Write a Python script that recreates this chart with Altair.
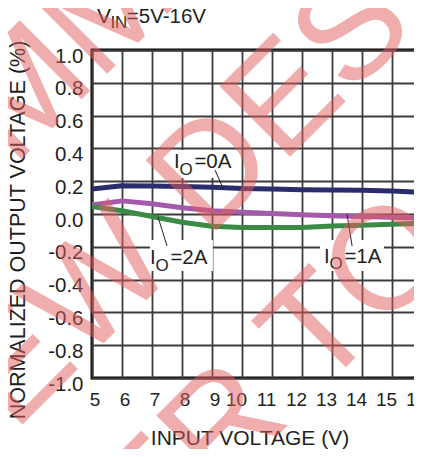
import altair as alt
import pandas as pd

# ---------------- data ----------------
vin = [5, 6, 7, 8, 9, 10, 11, 12, 13, 14, 15, 16]
io_0a = [0.152, 0.172, 0.170, 0.167, 0.163, 0.155, 0.152, 0.148, 0.146, 0.145, 0.140, 0.132]
io_1a = [0.055, 0.080, 0.062, 0.038, 0.020, 0.010, 0.003, -0.005, -0.011, -0.016, -0.020, -0.025]
io_2a = [0.045, 0.020, -0.015, -0.050, -0.075, -0.082, -0.083, -0.082, -0.073, -0.068, -0.062, -0.057]
series_names = ["IO=0A", "IO=1A", "IO=2A"]
series_colors = ["#2b2c6c", "#a45aab", "#3b8b47"]

x_ticks = [5, 6, 7, 8, 9, 10, 11, 12, 13, 14, 15, 16]
y_ticks = [-1.0, -0.8, -0.6, -0.4, -0.2, 0.0, 0.2, 0.4, 0.6, 0.8, 1.0]
x_title = "INPUT VOLTAGE (V)"
y_title = "NORMALIZED OUTPUT VOLTAGE (%)"

header_text = ["V", "IN", "=5V-16V"]

label_suffix = ["=0A", "=2A", "=1A"]
label_vin = [7.73, 6.93, 12.73]
label_pct = [0.28, -0.305, -0.297]

leader_vin = [9.1, 7.2, 13.5]
leader_vin2 = [9.38, 7.5, 13.67]
leader_pct = [0.268, -0.018, 0.0]
leader_pct2 = [0.152, -0.195, -0.195]

box_vin = [7.73, 6.93, 12.6]
box_vin2 = [9.73, 9.03, 14.73]
box_pct = [0.39, -0.159, -0.159]
box_pct2 = [0.22, -0.348, -0.348]

watermark_lines = ["NOT RECOMMENDED", "NEW DESIGNS", "REFER TO"]

# ---------------- layout / style ----------------
FONT = "Liberation Sans"
INK = "#231f20"
header_px = [5, 18.4, 34.8]
header_py = [-27, -22, -27]
header_fs = [21, 17, 20.5]
wm_px = [-618, -152, -147]
wm_py = [657, 457, 718]

rows = []
for name, vals in zip(series_names, [io_0a, io_1a, io_2a]):
    for v, p in zip(vin, vals):
        rows.append({"vin": v, "pct": p, "series": name})
df_lines = pd.DataFrame(rows)

xs = alt.Scale(domain=[5, 16], nice=False, zero=False)
ys = alt.Scale(domain=[-1, 1], nice=False, zero=False)

x_axis = alt.Axis(
    values=x_ticks, format="d", title=x_title, grid=True, ticks=False, tickSize=0,
    domain=False, labelFlush=False, labelOverlap=False, labelFontSize=19,
    labelPadding=27, labelBaseline="alphabetic",
    labelOffset=alt.condition("datum.value < 10", alt.value(2.5), alt.value(-6)),
    titleFontSize=21, titleFontWeight="normal", titleX=157.5, titleY=66.5,
    titleBaseline="alphabetic", titleAlign="center",
)
y_axis = alt.Axis(
    values=y_ticks,
    labelExpr="datum.value < 0 ? '-' + format(-datum.value, '.1f') : format(datum.value, '.1f')",
    title=y_title, grid=True, ticks=False, tickSize=0, domain=False, labelFlush=False,
    labelOverlap=False, labelFontSize=20.5, labelPadding=9, labelBaseline="alphabetic",
    labelOffset=12, titleFontSize=21.5, titleFontWeight="normal", titleAngle=270,
    titleX=-73.5, titleY=179.5, titleAlign="center", titleBaseline="middle",
)


def xq(field):
    return alt.X(field, type="quantitative", scale=xs, axis=x_axis)


def yq(field):
    return alt.Y(field, type="quantitative", scale=ys, axis=y_axis)


boxes = alt.Chart(pd.DataFrame({"vin": box_vin, "a2": box_vin2, "pct": box_pct, "b2": box_pct2})).mark_rect(
    color="white"
).encode(x=xq("vin"), x2="a2:Q", y=yq("pct"), y2="b2:Q")

lines = alt.Chart(df_lines).mark_line(strokeWidth=5, strokeJoin="round").encode(
    x=xq("vin"),
    y=yq("pct"),
    color=alt.Color("series:N", scale=alt.Scale(domain=series_names, range=series_colors), legend=None),
)

leaders = alt.Chart(pd.DataFrame({"vin": leader_vin, "a2": leader_vin2, "pct": leader_pct, "b2": leader_pct2})).mark_rule(
    color=INK, strokeWidth=1
).encode(x=xq("vin"), x2="a2:Q", y=yq("pct"), y2="b2:Q")

lab_df = pd.DataFrame({"vin": label_vin, "pct": label_pct, "suffix": label_suffix})
lab_i = alt.Chart(lab_df).mark_text(
    text="I", align="left", baseline="alphabetic", fontSize=20.5, font=FONT, color=INK
).encode(x=xq("vin"), y=yq("pct"))
lab_o = alt.Chart(lab_df).mark_text(
    text="O", align="left", baseline="alphabetic", fontSize=17, font=FONT, color=INK, dx=5.5, dy=6.5
).encode(x=xq("vin"), y=yq("pct"))
lab_s = alt.Chart(lab_df).mark_text(
    align="left", baseline="alphabetic", fontSize=20.5, font=FONT, color=INK, dx=20.5
).encode(x=xq("vin"), y=yq("pct"), text="suffix:N")

one = pd.DataFrame({"k": [0]})
header_marks = [
    alt.Chart(one).mark_text(text=t, align="left", baseline="alphabetic", font=FONT, color=INK, fontSize=fs).encode(
        x=alt.value(px), y=alt.value(py)
    )
    for t, px, py, fs in zip(header_text, header_px, header_py, header_fs)
]

watermark_marks = [
    alt.Chart(one).mark_text(
        text=t, align="left", baseline="alphabetic", font=FONT, fontSize=145, angle=315,
        color="#e35d5d", opacity=0.5,
    ).encode(x=alt.value(px), y=alt.value(py))
    for t, px, py in zip(watermark_lines, wm_px, wm_py)
]

chart = alt.layer(boxes, lines, leaders, lab_i, lab_o, lab_s, *header_marks, *watermark_marks).properties(
    width=330, height=328,
    padding={"left": 84, "top": 42, "right": -8, "bottom": 71},
    autosize=alt.AutoSizeParams(type="none"),
).configure_view(
    stroke="black", strokeWidth=3
).configure_axis(
    gridColor="#3c3c3c", gridWidth=1.8, gridOpacity=1,
    labelFont=FONT, titleFont=FONT, labelColor=INK, titleColor=INK,
)

chart.save("out.html", embed_options={"renderer": "svg", "actions": False})
